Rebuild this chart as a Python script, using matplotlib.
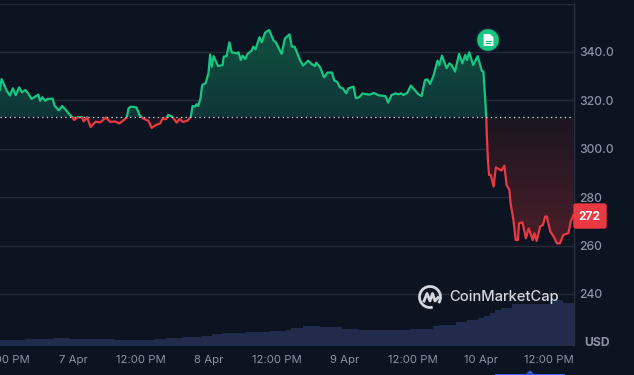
import numpy as np
import matplotlib
matplotlib.use("Agg")
import matplotlib.pyplot as plt
from matplotlib.patches import Circle, FancyBboxPatch, Polygon, Arc, Rectangle
from matplotlib.colors import LinearSegmentedColormap

plt.rcParams['font.family'] = ['Inter', 'DejaVu Sans']

# hours since 7 Apr 00:00
hours = [-12.9,-12.6,-12.2,-11.7,-11.1,-10.6,-10.1,-9.5,-9.0,-8.4,-7.9,-7.3,-6.1,-5.8,-5.4,-4.9,-4.5,-3.6,-3.2,-2.5,-1.9,-1.1,-0.8,-0.1,
 0.2,0.9,1.6,1.9,2.5,3.1,4.0,4.8,5.8,6.6,7.4,8.2,9.0,9.5,9.8,10.2,11.2,11.8,12.4,13.3,13.9,14.6,15.4,15.8,16.4,16.8,17.5,18.3,18.8,19.4,20.2,20.8,
 21.1,21.5,21.8,22.1,22.5,22.8,23.4,23.9,24.2,24.5,24.8,25.6,26.4,26.6,27.1,27.6,28.0,29.0,29.2,29.6,29.9,30.4,30.8,31.5,31.8,32.2,32.9,33.3,33.9,34.6,35.4,35.8,36.8,37.4,38.2,38.6,39.1,40.1,40.6,41.5,42.1,42.7,42.9,43.6,
 44.3,44.9,45.7,46.1,46.6,47.1,47.6,48.2,48.6,49.5,49.9,50.5,51.1,51.8,52.4,53.1,53.9,55.1,55.6,56.2,56.9,57.4,57.9,58.3,59.0,59.6,60.4,60.9,61.5,62.1,62.5,63.0,63.6,64.3,64.6,65.1,65.9,66.4,66.8,67.4,68.1,68.7,69.2,69.5,69.9,70.6,71.4,72.1,72.4,72.7,72.9,
 73.0,73.2,73.4,73.7,74.2,74.6,75.2,75.6,76.1,76.5,77.0,77.2,77.7,78.1,78.5,78.7,79.3,79.9,80.4,81.1,81.4,81.8,82.4,82.9,83.3,83.6,84.2,84.7,85.4,85.9,86.5,87.4,87.8,88.3]
prices = [324.3,328.8,326.8,324.0,322.0,325.0,322.2,325.4,323.3,324.3,322.9,320.6,322.4,319.8,321.3,319.8,320.6,320.7,317.7,315.9,317.7,315.6,314.7,313.0,
 311.9,313.1,313.0,311.3,313.0,309.0,311.2,310.9,312.9,311.1,311.3,310.5,311.9,313.0,316.7,317.4,317.1,313.7,312.5,311.6,308.6,309.8,310.5,312.5,312.2,314.0,313.3,310.8,312.3,311.1,311.6,313.3,
 317.7,317.4,318.4,317.7,320.9,326.4,327.1,331.2,339.0,333.9,338.3,334.2,334.6,338.1,338.3,344.0,339.9,339.4,339.9,336.7,338.5,337.1,339.2,340.6,342.2,341.1,346.1,344.0,348.0,349.1,344.7,344.0,339.2,345.6,347.3,342.2,342.2,336.4,334.4,336.4,335.0,334.2,335.6,333.7,
 329.5,331.5,331.5,328.2,327.7,325.4,325.0,322.9,325.0,325.7,320.9,321.3,322.9,322.5,322.4,323.1,322.1,321.8,319.1,322.2,322.9,322.5,322.9,322.2,323.2,326.1,324.0,322.6,321.8,328.4,328.7,326.8,330.2,336.4,334.6,338.5,333.3,335.3,334.6,331.9,339.2,335.3,338.8,336.7,339.9,334.6,338.3,332.3,331.9,321.5,313.0,
 306.4,295.4,289.2,289.2,284.4,292.3,291.5,291.0,293.0,285.0,283.0,277.5,270.6,262.3,262.3,269.2,269.6,263.0,267.1,262.3,265.1,261.9,267.8,268.5,272.0,272.0,265.8,264.1,260.9,260.9,264.4,265.1,269.9,272.6]
baseline_price = 313.2
last_price = 272

volume_hours = list(range(-13, 89))
volumes = [5.7]*5 + [6.7]*5 + [8,8,8] + [6.7]*8 + [5.7]*7 + [7,7] + [8,8,8] + [9,9,9] + [10,10] + [12,12] + [13]*4 + [14]*4 + [14.7]*3 + [15.7] + [17.7,17.7] + [20,20,20] \
    + [19]*4 + [17]*3 + [15.7]*7 + [16,16] + [17]*4 + [20] + [21]*3 + [24,24] + [25.7,25.7] + [27.5,30] + [33,36] + [38,38] + [41.7]*7 + [45.7,45.7] + [43,43]

tick_hours = [-12, 0, 12, 24, 36, 48, 60, 72, 84]
tick_labels = ["12:00 PM", "7 Apr", "12:00 PM", "8 Apr", "12:00 PM", "9 Apr", "12:00 PM", "10 Apr", "12:00 PM"]
price_ticks = [240, 260, 280, 300, 320, 340, 360]
price_labels = ["240", "260", "280", "300.0", "320.0", "340.0", ""]

BG = "#0c1321"
GRID = "#262b39"
TXT = "#8c92a4"
GREEN = "#16c784"
RED = "#ea3943"

W, H = 634, 375
fig = plt.figure(figsize=(W/100, H/100), dpi=100, facecolor=BG)
top_px, bot_px, right_px = 3.5, 345.5, 573.5
ax = fig.add_axes([0, 1-bot_px/H, right_px/W, (bot_px-top_px)/H], facecolor=BG)
xlim = (-12.87, 88.3)
ylim = (340-(bot_px-52)/2.42, 340+(52-top_px)/2.42)
ax.set_xlim(xlim); ax.set_ylim(ylim)

# volume on a hidden twin axis
vax = ax.twinx()
vax.set_ylim(0, bot_px-top_px)
vax.bar(volume_hours, volumes, width=1.0, color="#232b4c", linewidth=0, zorder=1)
vax.axis("off")
ax.set_zorder(vax.get_zorder()+1)
ax.patch.set_visible(False)
fig.patch.set_facecolor(BG)

ax.set_yticks(price_ticks, price_labels)
ax.set_xticks(tick_hours, tick_labels)
ax.yaxis.tick_right()
ax.tick_params(axis='both', length=0, colors=TXT, labelsize=8.2)
ax.tick_params(axis='y', pad=4, labelsize=8.8)
ax.tick_params(axis='x', pad=7)
for lab in ax.get_yticklabels():
    lab.set_fontweight(500)
ax.grid(axis='y', color=GRID, linewidth=1, zorder=0)
ax.set_axisbelow(True)
for s in ["top", "left", "bottom"]:
    ax.spines[s].set_visible(False)
ax.spines["right"].set_color("#2b303e")
ax.spines["right"].set_linewidth(1)

# gradient fills clipped to the area between the line and the baseline
area = ax.fill_between(hours, prices, baseline_price, color="none", linewidth=0)
green_cm = LinearSegmentedColormap.from_list("g", ["#103538", "#0f5240"])
red_cm = LinearSegmentedColormap.from_list("r", ["#4c1f29", "#1a1622"])
gim = ax.imshow(np.linspace(1, 0, 128)[:, None], extent=[xlim[0], xlim[1], baseline_price, 349.5],
                aspect="auto", cmap=green_cm, zorder=2)
rim = ax.imshow(np.linspace(1, 0, 128)[:, None], extent=[xlim[0], xlim[1], 260, baseline_price],
                aspect="auto", cmap=red_cm, zorder=2)
ax.set_xlim(xlim); ax.set_ylim(ylim)
clip = area.get_paths()[0]
gim.set_clip_path(clip, transform=ax.transData)
rim.set_clip_path(clip, transform=ax.transData)

# price line split at the baseline
gl, = ax.plot(hours, prices, color=GREEN, lw=1.6, zorder=4, solid_joinstyle="round")
rl, = ax.plot(hours, prices, color=RED, lw=1.6, zorder=4, solid_joinstyle="round")
gl.set_clip_path(Rectangle((xlim[0], baseline_price), xlim[1]-xlim[0], ylim[1]-baseline_price, transform=ax.transData))
rl.set_clip_path(Rectangle((xlim[0], ylim[0]), xlim[1]-xlim[0], baseline_price-ylim[0], transform=ax.transData))
ax.axhline(baseline_price, color="#c9ccd4", lw=0.9, dashes=(1.1, 2.6), zorder=5)

# overlay in pixel coordinates for decorations
ov = fig.add_axes([0, 0, 1, 1], facecolor="none", zorder=10)
ov.set_xlim(0, W); ov.set_ylim(H, 0); ov.axis("off")

ov.add_patch(FancyBboxPatch((574, 204), 32, 24, boxstyle="round,pad=0,rounding_size=2", fc=RED, ec=RED, lw=1))
ov.text(589.5, 216.5, str(last_price), color="white", fontsize=8.6, fontweight="bold", ha="center", va="center")
ov.text(597.5, 342.5, "USD", color=TXT, fontsize=8.8, fontweight="bold", ha="center", va="center")

# news marker
ov.add_patch(Circle((488, 40), 11.5, fc="#16c784", ec="#1e2b3a", lw=1))
ov.add_patch(Polygon([(484, 34.5), (490, 34.5), (493, 37.5), (493, 45.5), (484, 45.5)], closed=True, fc="white", ec="white", lw=0.6))
ov.plot([486, 491], [40.5, 40.5], color="#16c784", lw=0.9)
ov.plot([486, 490], [43, 43], color="#16c784", lw=0.9)

# CoinMarketCap mark
LOGO = "#d3d6de"
ov.add_patch(Arc((430, 297), 21, 21, theta1=75, theta2=395, color=LOGO, lw=2))
ov.plot([424, 427, 430, 432.5, 435, 438], [301, 293.5, 301, 293.5, 301, 297.5], color=LOGO, lw=2, solid_joinstyle="round")
ov.text(449, 297.5, "CoinMarketCap", color=LOGO, fontsize=10.6, fontweight=500, ha="left", va="center")

# range slider stub
ov.add_patch(Rectangle((495, 373.5), 70, 2, fc="#3861fb", ec="none"))
ov.add_patch(Polygon([(526, 373.6), (530, 370.5), (534, 373.6)], closed=True, fc="#3861fb", ec="none"))

fig.savefig("out.png", dpi=100, facecolor=BG)
